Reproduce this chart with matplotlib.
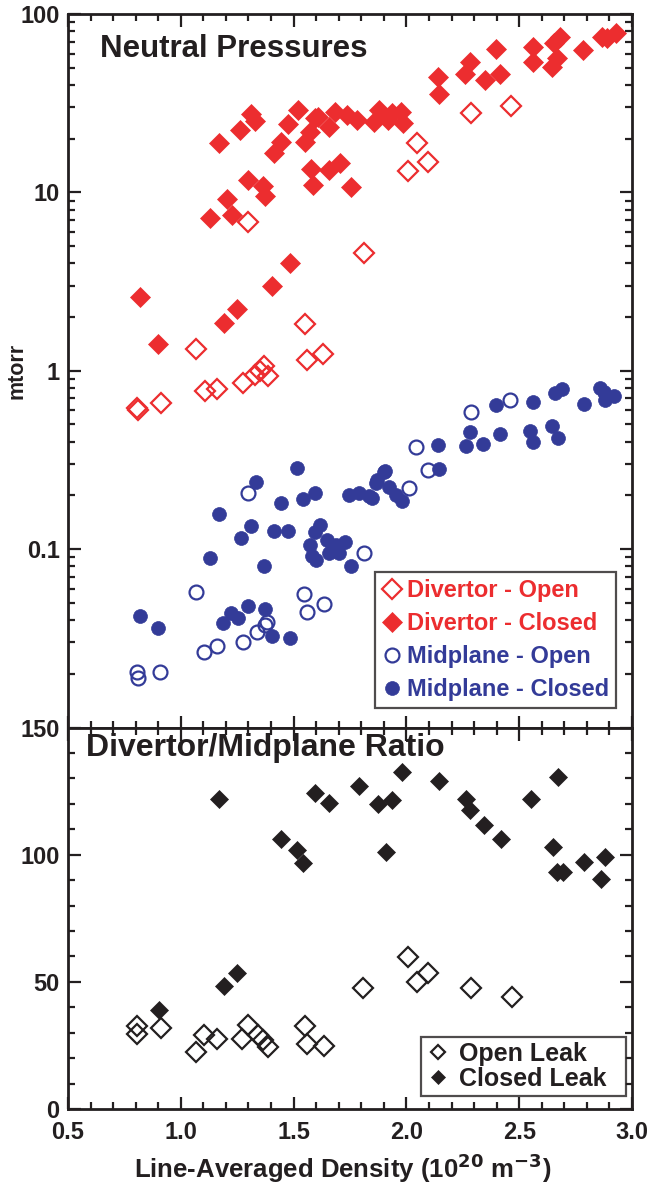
import numpy as np
import matplotlib
matplotlib.use('Agg')
import matplotlib.pyplot as plt
from matplotlib.ticker import FixedLocator, NullFormatter, MultipleLocator

plt.rcParams['font.family'] = ['Liberation Sans', 'DejaVu Sans']
plt.rcParams['font.weight'] = 'bold'

RED = '#EC2D2F'
BLUE = '#333B98'
INK = '#231F20'

# divertor pressure, open leak (mtorr)
div_open_x = [0.806, 0.81, 0.911, 1.067, 1.107, 1.159, 1.275, 1.30, 1.327, 1.35, 1.369,
              1.387, 1.55, 1.558, 1.632, 1.81, 2.009, 2.045, 2.094, 2.287, 2.463]
div_open_y = [0.616, 0.60, 0.66, 1.32, 0.77, 0.79, 0.85, 6.8, 0.946, 1.0, 1.06,
              0.93, 1.82, 1.15, 1.24, 4.6, 13.1, 18.8, 14.8, 28.0, 30.5]

# divertor pressure, closed leak
div_closed_x = [0.821, 0.90, 1.129, 1.171, 1.19, 1.204, 1.226, 1.249, 1.263, 1.298, 1.31,
                1.33, 1.365, 1.372, 1.402, 1.414, 1.443, 1.473, 1.484, 1.518, 1.55, 1.573,
                1.577, 1.588, 1.595, 1.61, 1.655, 1.655, 1.684, 1.707, 1.737, 1.756, 1.78,
                1.856, 1.878, 1.92, 1.9375, 1.975, 1.985, 2.138, 2.146, 2.258, 2.28, 2.347,
                2.399, 2.417, 2.56, 2.5625, 2.644, 2.652, 2.667, 2.679, 2.783, 2.867, 2.89,
                2.927]
div_closed_y = [2.6, 1.41, 7.2, 19.0, 1.85, 9.2, 7.5, 2.22, 22.4, 11.7, 27.5,
                25.0, 10.8, 9.5, 3.0, 16.6, 19.2, 24.2, 4.0, 29.0, 19.2, 21.9,
                13.6, 11.0, 26.0, 26.6, 23.3, 13.4, 28.3, 14.6, 27.2, 10.7, 25.5,
                24.9, 29.1, 25.5, 27.7, 28.4, 24.5, 44.6, 35.6, 46.4, 54.0, 42.7,
                63.4, 46.4, 54.0, 65.6, 50.7, 69.0, 56.5, 74.6, 62.8, 74.6, 73.0,
                77.9]

# midplane pressure, open leak
mid_open_x = [0.804, 0.811, 0.908, 1.067, 1.104, 1.159, 1.275, 1.298, 1.338, 1.375, 1.38,
              1.548, 1.558, 1.633, 1.814, 2.012, 2.042, 2.094, 2.287, 2.458]
mid_open_y = [0.0206, 0.0189, 0.0206, 0.0573, 0.0266, 0.0288, 0.0303, 0.206, 0.0342, 0.0376, 0.039,
              0.0561, 0.0447, 0.0493, 0.0955, 0.219, 0.376, 0.278, 0.59, 0.69]

# midplane pressure, closed leak
mid_closed_x = [0.821, 0.90, 1.131, 1.171, 1.189, 1.223, 1.253, 1.265, 1.298, 1.31, 1.335,
                1.369, 1.372, 1.402, 1.414, 1.443, 1.473, 1.484, 1.516, 1.543, 1.573, 1.58,
                1.595, 1.595, 1.60, 1.618, 1.65, 1.655, 1.69, 1.70, 1.729, 1.744, 1.756,
                1.789, 1.833, 1.848, 1.863, 1.87, 1.90, 1.905, 1.922, 1.952, 1.982, 2.138,
                2.146, 2.262, 2.28, 2.339, 2.399, 2.417, 2.548, 2.5625, 2.5625, 2.644, 2.659,
                2.671, 2.689, 2.786, 2.86, 2.882, 2.92, 2.875]
mid_closed_y = [0.0424, 0.0363, 0.089, 0.157, 0.0385, 0.0438, 0.041, 0.115, 0.048, 0.135, 0.239,
                0.080, 0.046, 0.0324, 0.126, 0.181, 0.127, 0.0317, 0.284, 0.191, 0.106, 0.091,
                0.206, 0.125, 0.087, 0.137, 0.113, 0.095, 0.105, 0.095, 0.110, 0.201, 0.0805,
                0.206, 0.198, 0.193, 0.234, 0.244, 0.272, 0.275, 0.224, 0.201, 0.185, 0.384,
                0.28, 0.38, 0.456, 0.39, 0.64, 0.44, 0.46, 0.40, 0.67, 0.49, 0.75,
                0.42, 0.79, 0.65, 0.80, 0.69, 0.72, 0.76]

# divertor / midplane ratio
ratio_open_x = [0.807, 0.804, 0.911, 1.067, 1.104, 1.161, 1.271, 1.298, 1.342, 1.365,
                1.387, 1.55, 1.558, 1.633, 1.808, 2.009, 2.045, 2.094, 2.287, 2.466]
ratio_open_y = [32.6, 29.5, 31.7, 22.5, 29.1, 27.4, 27.4, 33.0, 29.1, 27.1,
                24.5, 32.6, 25.4, 24.8, 47.4, 59.8, 50.0, 53.3, 47.4, 43.9]
ratio_closed_x = [0.903, 1.171, 1.19, 1.25, 1.446, 1.513, 1.543, 1.595, 1.655, 1.788,
                  1.875, 1.908, 1.934, 1.979, 2.146, 2.265, 2.28, 2.344, 2.421, 2.552,
                  2.649, 2.667, 2.696, 2.674, 2.789, 2.878, 2.863]
ratio_closed_y = [38.9, 121.8, 48.3, 53.6, 106.0, 102.0, 96.8, 124.3, 120.5, 127.0,
                  119.8, 100.9, 121.7, 132.5, 129.0, 121.8, 117.7, 111.6, 106.0, 121.8,
                  103.1, 93.3, 93.3, 130.6, 97.2, 99.1, 90.4]

fig = plt.figure(figsize=(6.54, 11.88), dpi=100)
ax1 = fig.add_axes([0.104, 0.3876, 0.8624, 0.6006])
ax2 = fig.add_axes([0.104, 0.0665, 0.8624, 0.3211])

ax1.plot(div_open_x, div_open_y, 'D', ms=10.5, mfc='none', mec=RED, mew=1.6,
         label='Divertor - Open')
ax1.plot(div_closed_x, div_closed_y, 'D', ms=10.5, color=RED, mec=RED, mew=0.5,
         label='Divertor - Closed')
ax1.plot(mid_open_x, mid_open_y, 'o', ms=10, mfc='none', mec=BLUE, mew=1.6,
         label='Midplane - Open')
ax1.plot(mid_closed_x, mid_closed_y, 'o', ms=10, color=BLUE, mec=BLUE, mew=0.5,
         label='Midplane - Closed')

ax2.plot(ratio_open_x, ratio_open_y, 'D', ms=10, mfc='none', mec=INK, mew=1.6,
         label='Open Leak  ')
ax2.plot(ratio_closed_x, ratio_closed_y, 'D', ms=9.5, color=INK, mec=INK, mew=0.5,
         label='Closed Leak  ')

for ax in (ax1, ax2):
    ax.set_xlim(0.5, 3.0)
    ax.xaxis.set_major_locator(MultipleLocator(0.5))
    ax.xaxis.set_minor_locator(MultipleLocator(0.1))
    for s in ax.spines.values():
        s.set_linewidth(2.0)
        s.set_color(INK)
    ax.tick_params(which='both', direction='in', top=True, right=True,
                   width=1.6, color=INK, labelsize=17, labelcolor=INK)
    ax.tick_params(which='major', length=9)
    ax.tick_params(which='minor', length=5)
    ax.tick_params(axis='y', pad=6)
    ax.tick_params(axis='x', pad=9)

ax1.set_yscale('log')
ax1.set_ylim(0.01, 100)
ax1.yaxis.set_major_locator(FixedLocator([0.1, 1, 10, 100]))
ax1.set_yticklabels(['0.1', '1', '10', '100'])
ax1.yaxis.set_minor_formatter(NullFormatter())
ax1.tick_params(axis='x', labelbottom=False)
ax1.set_ylabel('mtorr', fontsize=15.5, fontweight='bold', color=INK)
ax1.yaxis.set_label_coords(-0.072, 0.5)
ax1.text(0.057, 0.951, 'Neutral Pressures', transform=ax1.transAxes,
         fontsize=22.5, fontweight='bold', color=INK, va='center', ha='left')

leg1 = ax1.legend(loc='lower right', bbox_to_anchor=(0.972, 0.027), frameon=True,
                  fancybox=False, fontsize=17, handlelength=0.8, handletextpad=0.25,
                  labelspacing=0.42, borderpad=0.3, borderaxespad=0)
leg1.get_frame().set_edgecolor(INK)
leg1.get_frame().set_linewidth(1.6)
for t, c in zip(leg1.get_texts(), [RED, RED, BLUE, BLUE]):
    t.set_color(c)

ax2.set_ylim(0, 150)
ax2.yaxis.set_major_locator(MultipleLocator(50))
ax2.yaxis.set_minor_locator(MultipleLocator(10))
ax2.set_xticks([0.5, 1.0, 1.5, 2.0, 2.5, 3.0])
ax2.set_xticklabels(['0.5', '1.0', '1.5', '2.0', '2.5', '3.0'])
ax2.set_xlabel('Line-Averaged Density (10$^{\\mathbf{20}}$ m$^{\\mathbf{-3}}$)',
               fontsize=18.5, fontweight='bold', color=INK, labelpad=6)
ax2.xaxis.set_label_coords(0.487, -0.112)
ax2.text(0.032, 0.946, 'Divertor/Midplane Ratio', transform=ax2.transAxes,
         fontsize=23, fontweight='bold', color=INK, va='center', ha='left')

leg2 = ax2.legend(loc='lower right', bbox_to_anchor=(0.989, 0.034), frameon=True,
                  fancybox=False, fontsize=18, handlelength=1.0, handletextpad=0.35,
                  labelspacing=0.05, borderpad=0.2, borderaxespad=0, markerscale=0.7)
leg2.get_frame().set_edgecolor(INK)
leg2.get_frame().set_linewidth(1.6)
for t in leg2.get_texts():
    t.set_color(INK)

fig.savefig('out.png', dpi=100)
